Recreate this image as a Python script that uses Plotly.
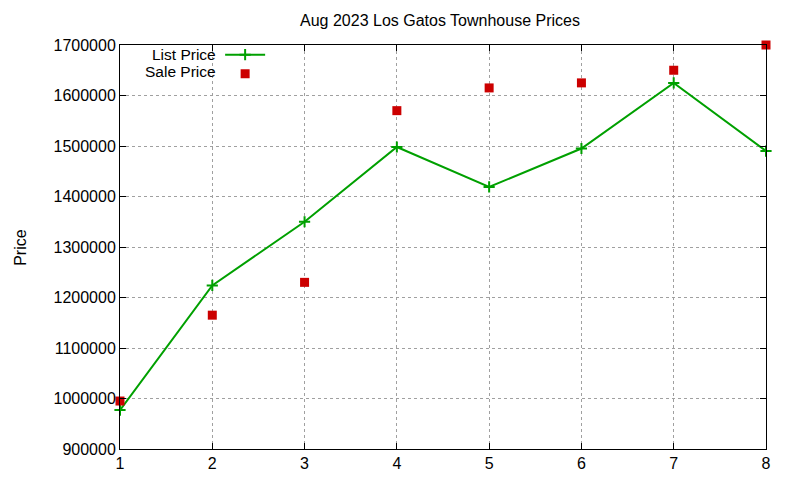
import plotly.graph_objects as go

# sale number within the month
sales = [1, 2, 3, 4, 5, 6, 7, 8]
list_price = [977000, 1224000, 1350000, 1498000, 1419000, 1495000, 1625000, 1490000]
sale_price = [995000, 1165000, 1230000, 1570000, 1615000, 1625000, 1650000, 1700000]

x_ticks = [1, 2, 3, 4, 5, 6, 7, 8]
y_ticks = [900000, 1000000, 1100000, 1200000, 1300000, 1400000, 1500000, 1600000, 1700000]

fig = go.Figure()
# legend entries get no text; gnuplot-style key text is added on the left of the samples
fig.add_trace(go.Scatter(
    x=sales, y=list_price, name="", mode="lines+markers",
    line=dict(color="#00a000", width=2),
    marker=dict(symbol="cross-thin", size=8, line=dict(color="#00a000", width=2)),
    cliponaxis=False,
))
fig.add_trace(go.Scatter(
    x=sales, y=sale_price, name=" ", mode="markers",
    marker=dict(symbol="square", size=9, color="#cc0000"),
    cliponaxis=False,
))

axis_common = dict(
    showline=True, linecolor="black", linewidth=1, mirror="ticks",
    ticks="inside", ticklen=6, tickcolor="black",
    showgrid=True, gridcolor="#a0a0a0", griddash="dot", gridwidth=1,
    zeroline=False, tickfont=dict(size=16, color="black"), automargin=False,
)

fig.update_xaxes(range=[1, 8], tickvals=x_ticks, **axis_common)
fig.update_yaxes(range=[900000, 1700000], tickvals=y_ticks, tickformat="d", **axis_common)

# y axis label
fig.add_annotation(text="Price", xref="paper", yref="paper", x=-0.155, y=0.5,
                   xanchor="center", yanchor="middle",
                   textangle=-90, showarrow=False, font=dict(size=16, color="black"))

key_names = ["List Price", "Sale Price"]
for name, ky in zip(key_names, [0.976, 0.935]):
    fig.add_annotation(text=name, xref="paper", yref="paper", x=0.152, y=ky,
                       xanchor="right", yanchor="middle", showarrow=False,
                       font=dict(size=15.5, color="black"))

fig.update_layout(
    width=800, height=480,
    margin=dict(l=112, r=42, t=37, b=39),
    paper_bgcolor="white", plot_bgcolor="white",
    font=dict(family="Liberation Sans, Arial, sans-serif", color="black"),
    title=dict(text="Aug 2023 Los Gatos Townhouse Prices", xref="container", x=0.54,
               xanchor="center", yref="container", y=0.975, yanchor="middle",
               font=dict(size=16, color="black")),
    legend=dict(x=0.155, y=1.012, xanchor="left", yanchor="top", bgcolor="rgba(0,0,0,0)",
                font=dict(size=7), tracegroupgap=0, itemwidth=40),
    showlegend=True,
)

fig.write_html("out.html")
